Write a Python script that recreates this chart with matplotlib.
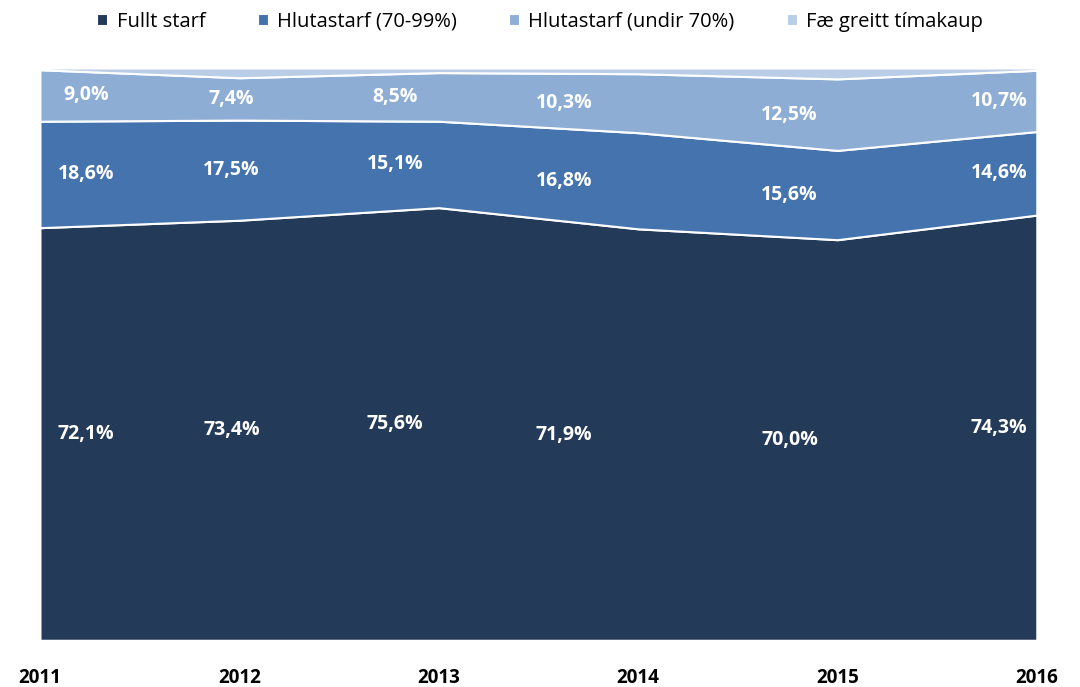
import matplotlib.pyplot as plt
import numpy as np

plt.rcParams["font.family"] = ["Open Sans", "DejaVu Sans"]

years = [2011, 2012, 2013, 2014, 2015, 2016]
series_names = ["Fullt starf", "Hlutastarf (70-99%)", "Hlutastarf (undir 70%)", "Fæ greitt tímakaup"]
fullt = [72.1, 73.4, 75.6, 71.9, 70.0, 74.3]
hluta_70_99 = [18.6, 17.5, 15.1, 16.8, 15.6, 14.6]
hluta_undir_70 = [9.0, 7.4, 8.5, 10.3, 12.5, 10.7]
tima = [0.3, 1.7, 0.8, 1.0, 1.9, 0.4]

colors = ["#243a59", "#4473ae", "#8dadd5", "#b9cde6"]

# where Excel put the data labels (shifted inward at the edges)
label_x = [2011.23, 2011.96, 2012.78, 2013.63, 2014.76, 2015.81]


def fmt(v):
    return f"{v:.1f}%".replace(".", ",")


fig = plt.figure(figsize=(10.8, 6.87), dpi=100)
ax = fig.add_axes([0.037, 0.068, 0.923, 0.833])

layers = [fullt, hluta_70_99, hluta_undir_70, tima]
ax.stackplot(years, *layers, colors=colors, labels=series_names,
             edgecolor="white", linewidth=1.5)

bottom = np.zeros(len(years))
for vals in layers[:3]:
    vals = np.array(vals)
    mids = bottom + vals / 2
    for x, y, v in zip(label_x, mids, vals):
        ax.text(x, y, fmt(v), ha="center", va="center", color="white",
                fontsize=14, fontweight="bold")
    bottom += vals

ax.set_xlim(2011, 2016)
ax.set_ylim(0, 100)
ax.set_yticks([])
ax.set_xticks(years)
ax.set_xticklabels([str(y) for y in years], fontsize=13.5, fontweight="bold")
ax.tick_params(axis="x", length=0, pad=20)
for s in ax.spines.values():
    s.set_visible(False)

ax.legend(loc="center", bbox_to_anchor=(0.5, 0.968), bbox_transform=fig.transFigure,
          ncol=4, frameon=False, fontsize=14.5, handlelength=0.55, handleheight=0.55,
          handletextpad=0.4, columnspacing=2.6)

fig.savefig("out.png", dpi=100)
